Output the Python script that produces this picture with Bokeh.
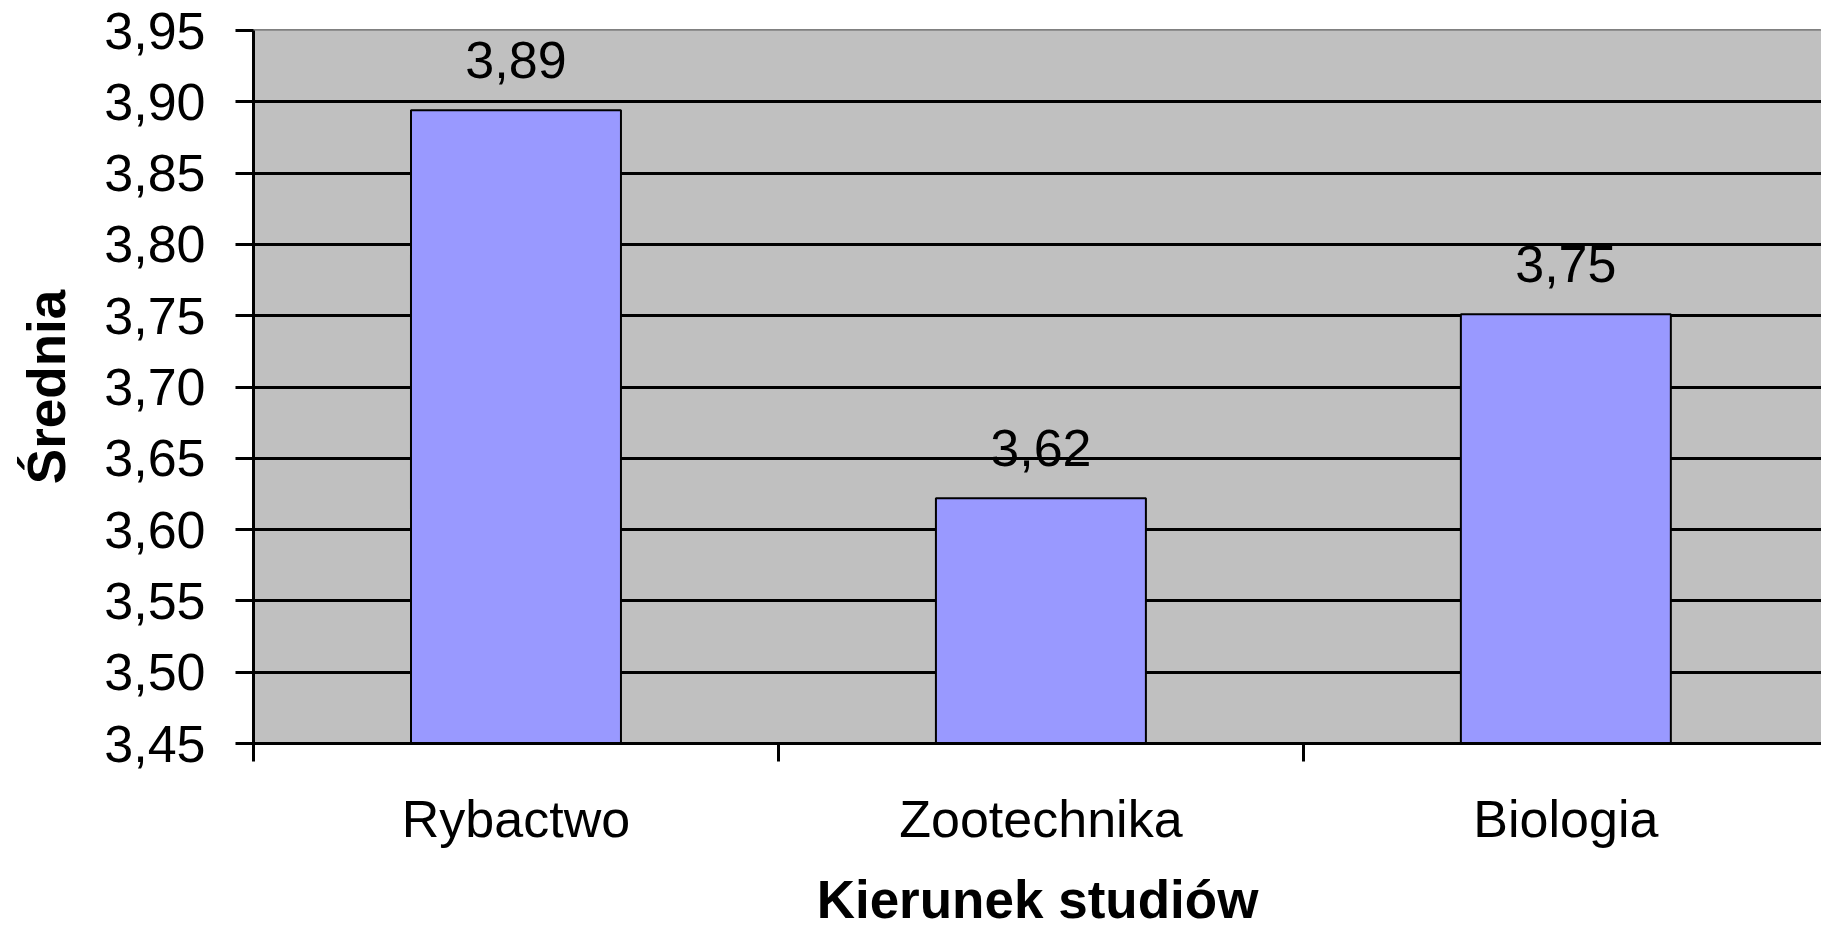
from bokeh.plotting import figure
from bokeh.models import Range1d, FixedTicker, CustomJSTickFormatter, ColumnDataSource
from bokeh.core.properties import value
from bokeh.embed import file_html
from bokeh.resources import INLINE

# ---- data ----
categories = ["Rybactwo", "Zootechnika", "Biologia"]
means = [3.894, 3.622, 3.751]
y_ticks = [3.45, 3.50, 3.55, 3.60, 3.65, 3.70, 3.75, 3.80, 3.85, 3.90, 3.95]
x_title = "Kierunek studiów"
y_title = "Średnia"

FONT = "Liberation Sans"

xs = [i + 0.5 for i in range(len(categories))]
labels = [("%.2f" % v).replace(".", ",") for v in means]
src = ColumnDataSource(dict(x=xs, top=means, label=labels))

p = figure(width=1821, height=932, output_backend="svg", toolbar_location=None,
           x_range=Range1d(0, 2.987), y_range=Range1d(y_ticks[0], y_ticks[-1]),
           min_border_left=253, min_border_top=30, min_border_right=0, min_border_bottom=189)

p.background_fill_color = "#FFFFFF"
p.border_fill_color = "#FFFFFF"
p.outline_line_color = "#808080"
p.outline_line_width = 3

# plot area background
p.quad(left=0, right=len(categories), bottom=y_ticks[0], top=y_ticks[-1],
       fill_color="#C0C0C0", line_color=None, level="underlay")

p.vbar(x="x", top="top", bottom=y_ticks[0], width=0.4, source=src,
       fill_color="#9999FF", line_color="#000000", line_width=2)

p.text(x="x", y="top", text="label", source=src, text_align="center",
       text_baseline="alphabetic", y_offset=-50, text_font=value(FONT),
       text_font_size="52px", text_color="#000000")

# y axis
ya = p.yaxis[0]
ya.ticker = FixedTicker(ticks=y_ticks)
ya.formatter = CustomJSTickFormatter(code="return tick.toFixed(2).replace('.', ',');")
ya.major_label_text_font = FONT
ya.major_label_text_font_size = "52px"
ya.major_label_text_color = "#000000"
ya.major_tick_out = 18
ya.major_tick_in = 0
ya.major_tick_line_width = 3
ya.major_tick_line_color = "#000000"
ya.minor_tick_out = 0
ya.minor_tick_in = 0
ya.axis_line_width = 3
ya.axis_line_color = "#000000"
ya.major_label_standoff = 30
ya.axis_label = y_title
ya.axis_label_text_font = FONT
ya.axis_label_text_font_style = "bold"
ya.axis_label_text_font_size = "53px"
ya.axis_label_text_color = "#000000"
ya.axis_label_standoff = 25

# x axis
xa = p.xaxis[0]
xa.ticker = FixedTicker(ticks=xs, minor_ticks=list(range(len(categories) + 1)))
xa.major_label_overrides = {x: c for x, c in zip(xs, categories)}
xa.major_label_text_font = FONT
xa.major_label_text_font_size = "52px"
xa.major_label_text_color = "#000000"
xa.major_tick_out = 0
xa.major_tick_in = 0
xa.minor_tick_out = 18
xa.minor_tick_in = 0
xa.minor_tick_line_width = 3
xa.minor_tick_line_color = "#000000"
xa.axis_line_width = 3
xa.axis_line_color = "#000000"
xa.major_label_standoff = 28
xa.axis_label = x_title
xa.axis_label_text_font = FONT
xa.axis_label_text_font_style = "bold"
xa.axis_label_text_font_size = "53px"
xa.axis_label_text_color = "#000000"
xa.axis_label_standoff = 19

# grid
p.xgrid.visible = False
p.ygrid.ticker = FixedTicker(ticks=y_ticks[1:-1])
p.ygrid.grid_line_color = "#000000"
p.ygrid.grid_line_width = 3

open("out.html", "w").write(file_html(p, INLINE))
